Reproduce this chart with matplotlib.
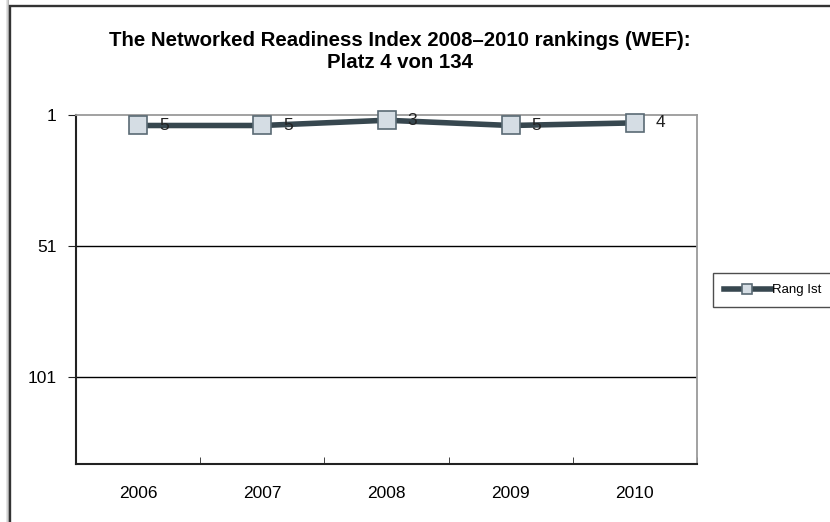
import numpy as np
import matplotlib

matplotlib.use("Agg")
import matplotlib.pyplot as plt
from matplotlib.patches import Rectangle

plt.rcParams["font.family"] = ["Liberation Sans", "DejaVu Sans"]

years = ["2006", "2007", "2008", "2009", "2010"]
rank = [5, 5, 3, 5, 4]
y_ticks = [1, 51, 101]
n_countries = 134

LINE = "#37474f"
MARK = "#d5dde4"
MARK_EDGE = "#5a6a74"

fig = plt.figure(figsize=(8.3, 5.22), dpi=100)
fig.patch.set_facecolor("white")

# outer chart frame with soft shadow on the left (kept behind the axes)
for i, a in enumerate([0.10, 0.18, 0.28]):
    fig.patches.append(Rectangle((9 / 830 - (3 - i) / 830, 0), 1.0 / 830, 1.0,
                                 transform=fig.transFigure, color="black",
                                 alpha=a, lw=0, zorder=-2))
fig.patches.append(Rectangle((10 / 830, -0.05), 1.2, 1 - 6 / 522 + 0.05,
                             transform=fig.transFigure, facecolor="white",
                             edgecolor="#333333", lw=1.7, zorder=-1))

ax = fig.add_axes([76 / 830, 1 - 464 / 522, 621 / 830, (464 - 115) / 522])
ax.set_facecolor("white")

x = np.arange(len(years))
ax.plot(x, rank, color=LINE, lw=4, marker="s", markersize=13,
        markerfacecolor=MARK, markeredgecolor=MARK_EDGE, markeredgewidth=1.2,
        label="Rang Ist", zorder=3, solid_joinstyle="round", clip_on=False)

for xi, r in zip(x, rank):
    ax.annotate(str(r), (xi, r), xytext=(15, 0), textcoords="offset points",
                ha="left", va="center", fontsize=12.5, color="#222222", zorder=4)

ax.set_xlim(-0.5, len(years) - 0.5)
ax.set_ylim(n_countries, 1)
ax.set_yticks(y_ticks)
ax.set_yticklabels([str(t) for t in y_ticks], fontsize=12.5)
ax.set_xticks(x)
ax.set_xticklabels(years, fontsize=12.5)
ax.tick_params(axis="x", length=0, pad=16)
ax.tick_params(axis="y", length=6, direction="out", pad=8, color="#222222")
ax.set_xticks(np.arange(-0.5, len(years)), minor=True)
ax.tick_params(axis="x", which="minor", length=5, direction="in", color="#222222")

for t in y_ticks[1:]:
    ax.axhline(t, color="black", lw=1.0, zorder=1)

ax.spines["left"].set_color("#222222")
ax.spines["left"].set_linewidth(1.5)
ax.spines["bottom"].set_color("#222222")
ax.spines["bottom"].set_linewidth(1.5)
ax.spines["top"].set_color("#9a9a9a")
ax.spines["top"].set_linewidth(1.3)
ax.spines["right"].set_color("#9a9a9a")
ax.spines["right"].set_linewidth(1.3)

fig.text(400 / 830, 1 - 40 / 522, "The Networked Readiness Index 2008\u20132010 rankings (WEF):",
         ha="center", va="center", fontsize=14.7, fontweight="bold")
fig.text(400 / 830, 1 - 62 / 522, "Platz 4 von 134",
         ha="center", va="center", fontsize=14.7, fontweight="bold")

leg = ax.legend(loc="center left", bbox_to_anchor=((713 - 76) / 621, (464 - 290) / 349),
                borderaxespad=0, fontsize=9.5, frameon=True, fancybox=False,
                handlelength=3.6, handletextpad=0.1, borderpad=0.8,
                markerscale=0.5)
leg.get_frame().set_edgecolor("#222222")
leg.get_frame().set_linewidth(1.0)

fig.savefig("out.png", dpi=100, facecolor="white")
